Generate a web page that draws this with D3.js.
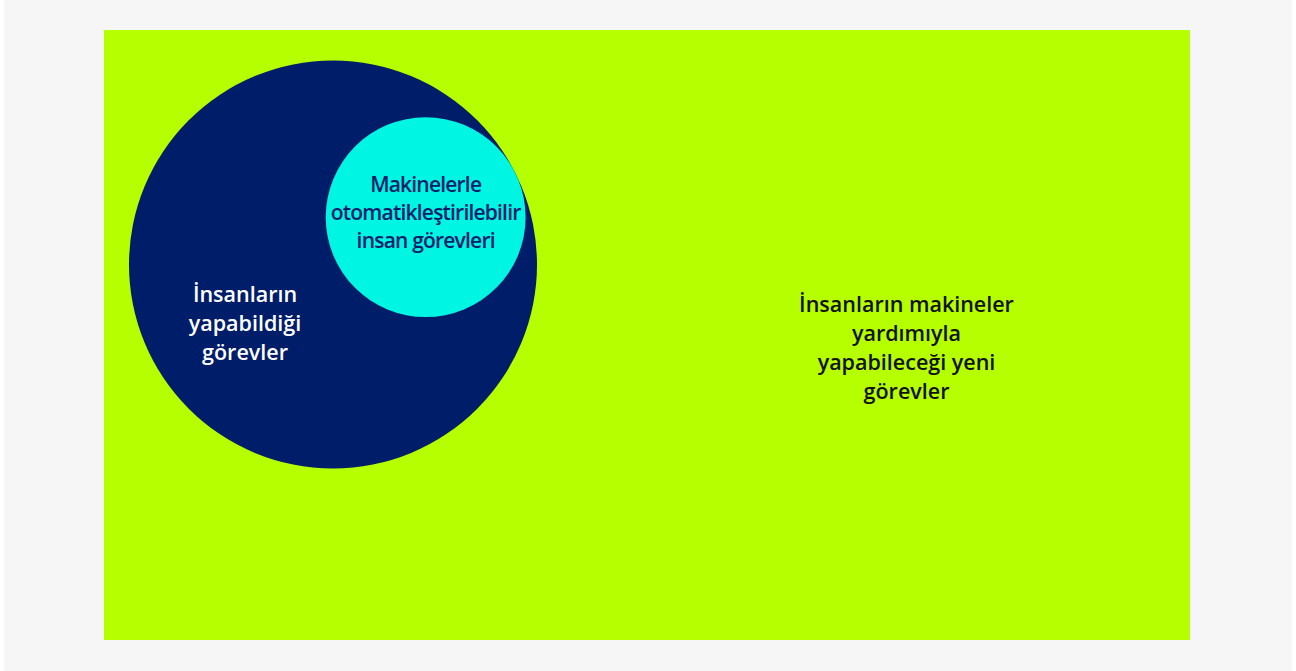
<!DOCTYPE html>
<html lang="tr">
<head>
  <meta charset="UTF-8" />
  <title>Görevler</title>
  <style>
    body {
      margin: 0;
      background: white;
      overflow: hidden;
    }
    svg {
      display: block;
    }
    text {
      font-family: "Open Sans", Lato, sans-serif;
      font-weight: 600;
      font-size: 21.5px;
    }
    .tight {
      font-size: 21px;
      letter-spacing: -0.8px;
    }
  </style>
</head>
<body>
<svg></svg>
<script src="https://d3js.org/d3.v7.min.js"></script>
<script>
const width = 1296;
const height = 671;

// sets: relative sizes (areas) and labels
const setNames = ["human", "automatable"];
const setSizes = [100, 24];
const setLabels = [
  ["İnsanların", "yapabildiği", "görevler"],
  ["Makinelerle", "otomatikleştirilebilir", "insan görevleri"]
];
const outsideLabel = ["İnsanların makineler", "yardımıyla", "yapabileceği yeni", "görevler"];

const colors = {
  page: "#f6f6f6",
  field: "#b5ff00",
  human: "#001d6a",
  automatable: "#00f5e2"
};

const svg = d3.select("svg")
  .attr("width", width)
  .attr("height", height);

svg.append("rect")
  .attr("x", 4).attr("y", 0)
  .attr("width", width - 8).attr("height", height)
  .attr("fill", colors.page);

// plot area in a 0..100 coordinate space
const x = d3.scaleLinear().domain([0, 100]).range([104, 1190]);
const y = d3.scaleLinear().domain([0, 100]).range([30, 640]);
const r = d3.scaleSqrt().domain([0, 100]).range([0, 204]);

svg.append("rect")
  .attr("x", x(0)).attr("y", y(0))
  .attr("width", x(100) - x(0)).attr("height", y(100) - y(0))
  .attr("fill", colors.field);

// big circle, small circle internally tangent at upper right
const R0 = r(setSizes[0]);
const R1 = r(setSizes[1]);
const c0 = { x: 333, y: 264.5 };
const ang = Math.atan2(-47.5, 93);
const c1 = {
  x: c0.x + (R0 - R1) * Math.cos(ang),
  y: c0.y + (R0 - R1) * Math.sin(ang)
};

const circles = [
  { name: setNames[0], cx: c0.x, cy: c0.y, r: R0 },
  { name: setNames[1], cx: c1.x, cy: c1.y, r: R1 }
];

svg.append("g")
  .selectAll("circle")
  .data(circles)
  .join("circle")
  .attr("cx", d => d.cx)
  .attr("cy", d => d.cy)
  .attr("r", d => d.r)
  .attr("fill", d => colors[d.name]);

function label(lines, cx, firstBaseline, lh, fill, cls) {
  svg.append("text")
    .attr("class", cls || null)
    .attr("text-anchor", "middle")
    .attr("fill", fill)
    .selectAll("tspan")
    .data(lines)
    .join("tspan")
    .attr("x", cx)
    .attr("y", (d, i) => firstBaseline + i * lh)
    .text(d => d);
}

label(setLabels[0], 245, 302, 29, "#ffffff");
label(setLabels[1], c1.x, 192, 28, colors.human, "tight");
label(outsideLabel, 906.5, 312, 29, "#111111");
</script>
</body>
</html>
